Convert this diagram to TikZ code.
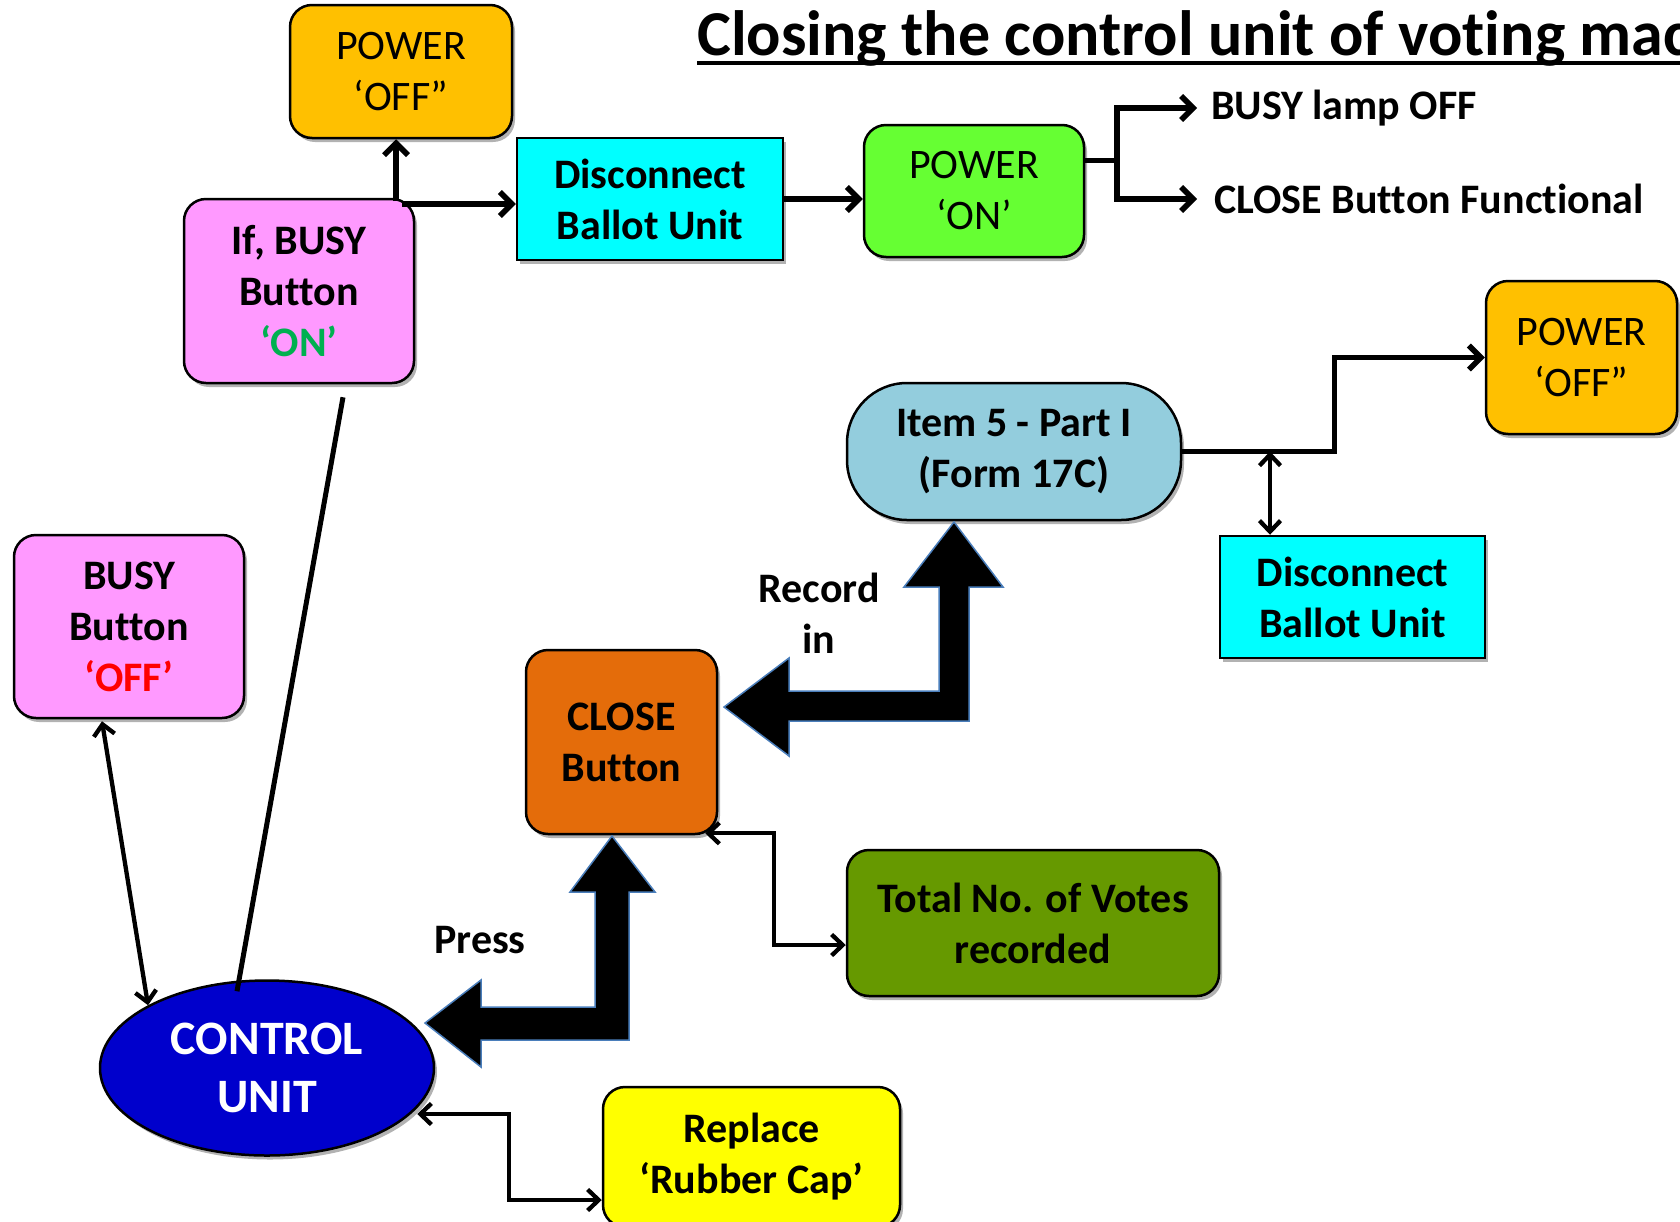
\documentclass[tikz,border=0pt]{standalone}
\usepackage{fontspec}
\setmainfont{Carlito}[Ligatures={NoCommon}]
\usetikzlibrary{arrows.meta,shadows,calc,shapes.geometric}
\definecolor{cOrange}{HTML}{FFC000}
\definecolor{cPink}{HTML}{FF99FF}
\definecolor{cCyan}{HTML}{00FFFF}
\definecolor{cLime}{HTML}{66FF33}
\definecolor{cLblue}{HTML}{93CDDD}
\definecolor{cCloseOr}{HTML}{E46C0A}
\definecolor{cOlive}{HTML}{669900}
\definecolor{cYellow}{HTML}{FFFF00}
\definecolor{cBlue}{HTML}{0000CC}
\definecolor{cGreen}{HTML}{00B050}
\definecolor{cRed}{HTML}{FF0000}
\definecolor{cArrowBlue}{HTML}{4A7EBB}
\newcommand\boxfont{\fontsize{42}{51}\selectfont}
\begin{document}
\begin{tikzpicture}[x=1pt,y=-1pt,
  box/.style={draw=black, line width=2.5pt, align=center, font=\boxfont, inner sep=0pt,
    drop shadow={shadow xshift=3pt, shadow yshift=-4pt, opacity=0.3, fill=black}},
  rbox/.style={box, rounded corners=22pt},
  bf/.style={font=\boxfont\bfseries},
  conn/.style={line width=5.5pt, -{Straight Barb[length=12pt,width=24pt]}},
  dconn/.style={line width=4.3pt, {Straight Barb[length=11pt,width=21pt]}-{Straight Barb[length=11pt,width=21pt]}},
  plain/.style={line width=5pt},
  blockarrow/.style={fill=black, draw=cArrowBlue, line width=1.5pt, line join=miter},
  lbl/.style={font=\boxfont\bfseries, align=center, inner sep=0pt}
]
\useasboundingbox (0,0) rectangle (1680,1221);
\clip (0,0) rectangle (1680,1221);

% title
\node[anchor=base west, font=\fontsize{64}{68}\selectfont\bfseries, inner sep=0pt] (title) at (697,55) {Closing the control unit of voting machine};
\draw[line width=4pt] (title.base west) ++(0,8) -- ++(1100,0);

% boxes
\node[rbox, fill=cOrange, minimum width=222, minimum height=133] (poff1) at (401,71.5) {POWER\\‘OFF”};
\node[rbox, bf, fill=cPink, minimum width=230, minimum height=184] (ifbusy) at (299,291) {If, BUSY\\Button\\\textcolor{cGreen}{‘ON’}};
\node[box, bf, fill=cCyan, minimum width=266, minimum height=122] (disc1) at (650,199) {Disconnect\\Ballot Unit};
\node[rbox, fill=cLime, minimum width=220, minimum height=132] (pon) at (974,191) {POWER\\‘ON’};
\node[box, bf, rounded corners=60pt, fill=cLblue, minimum width=334, minimum height=137] (item5) at (1014,451.5) {Item 5 - Part I\\(Form 17C)};
\node[rbox, fill=cOrange, minimum width=191, minimum height=153] (poff2) at (1581.5,357.5) {POWER\\‘OFF”};
\node[box, bf, fill=cCyan, minimum width=265, minimum height=122] (disc2) at (1352.5,597) {Disconnect\\Ballot Unit};
\node[rbox, bf, fill=cPink, minimum width=230, minimum height=183] (busyoff) at (129,626.5) {BUSY\\Button\\\textcolor{cRed}{‘OFF’}};
\node[rbox, bf, fill=cCloseOr, minimum width=191, minimum height=184] (close) at (621.5,742) {CLOSE\\Button};
\node[rbox, bf, fill=cOlive, minimum width=372, minimum height=146] (total) at (1033,923) {Total No. of Votes\\recorded};
\node[rbox, bf, fill=cYellow, minimum width=297, minimum height=140] (replace) at (751.5,1157) {Replace\\‘Rubber Cap’};
\node[box, ellipse, fill=cBlue, text=white, minimum width=334, minimum height=175,
  font=\fontsize{48}{58}\selectfont\bfseries] (cu) at (267,1068) {CONTROL\\UNIT};

% free text
\node[lbl, anchor=west, inner xsep=14pt] (lamp) at (1197,108) {BUSY lamp OFF};
\node[lbl, anchor=west, inner xsep=17pt] (func) at (1197,199) {CLOSE Button Functional};
\node[lbl] (rec) at (819,613) {Record\\in};
\node[lbl] (press) at (480,940) {Press};

% block arrows
\draw[blockarrow] (954,522) -- (1003,587) -- (969,587) -- (969,721) -- (789,721) -- (789,756)
  -- (724,707) -- (789,658) -- (789,691) -- (939,691) -- (939,587) -- (904,587) -- cycle;
\draw[blockarrow] (612,836) -- (655,892) -- (629,892) -- (629,1040) -- (481,1040) -- (481,1067)
  -- (425,1023) -- (481,980) -- (481,1007) -- (595,1007) -- (595,892) -- (570,892) -- cycle;

% connectors
\coordinate (jn) at (396,201);
\draw[conn] (jn) -- (jn |- poff1.south);
\draw[conn] ($(jn)+(6,3)$) -- ($(jn -| disc1.west)+(0,3)$);
\draw[conn] (disc1.east) -- (pon.west |- disc1.east);
\coordinate (pb) at (1117,160);
\draw[plain] (pon.east |- pb) -- (pb);
\draw[conn] (pb) |- (lamp.west);
\draw[conn] (pb) |- (func.west);
\draw[conn] (item5.east) -- ++(152,0) |- (poff2.west);
\coordinate (d2) at (1270,451.5);
\draw[dconn] (d2) -- (d2 |- disc2.north);
\draw[dconn] ($(busyoff.south)+(-27,2)$) -- (cu.north west);
\draw[plain] ($(ifbusy.south)+(44,13)$) -- ($(cu.north)+(-30,12)$);
\coordinate (tk) at (774,945);
\draw[dconn] ($(close.south east)+(-13,-2)$) -| (tk) -- (tk -| total.west);
\coordinate (rk) at (509,1200);
\draw[dconn] ($(cu.east)+(-18,46)$) -| (rk) -- (rk -| replace.west);
\end{tikzpicture}
\end{document}
